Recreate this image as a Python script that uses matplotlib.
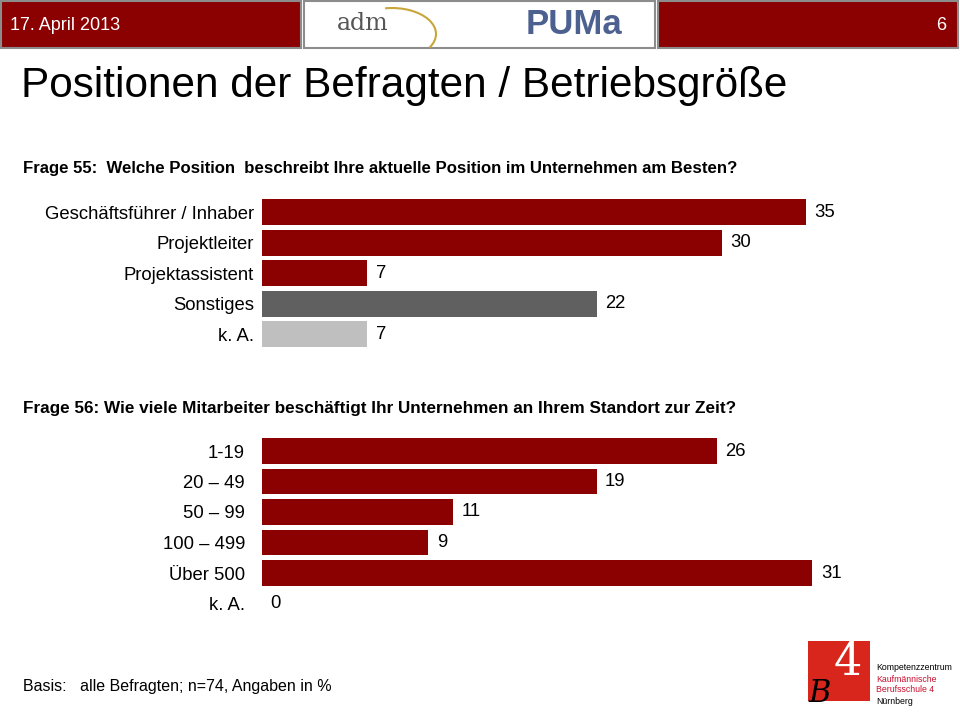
import numpy as np
import matplotlib.pyplot as plt
from matplotlib.patches import Rectangle, Arc

W, H = 960, 718
DARK_RED = '#8b0000'

# Frage 55 - bar lengths (percent), labels rounded
positions = ['Geschäftsführer / Inhaber', 'Projektleiter', 'Projektassistent', 'Sonstiges', 'k. A.']
position_values = [35.1, 29.7, 6.8, 21.6, 6.8]
position_colors = [DARK_RED, DARK_RED, DARK_RED, '#606060', '#bfbfbf']

# Frage 56
size_labels = ['1-19', '20 – 49', '50 – 99', '100 – 499', 'Über 500', 'k. A.']
size_values = [25.7, 18.9, 10.8, 9.4, 31.1, 0]
size_colors = [DARK_RED] * 6

plt.rcParams['font.family'] = ['Liberation Sans', 'DejaVu Sans']


def fig_rect(x0, y0, x1, y1):
    # pixel box (top-left origin) -> figure fraction
    return [x0 / W, 1 - y1 / H, (x1 - x0) / W, (y1 - y0) / H]


def bar_block(fig, rect, labels, values, colors, xmax, label_pad):
    ax = fig.add_axes(rect)
    y = np.arange(len(labels))
    bars = ax.barh(y, values, height=0.84, color=colors)
    ax.bar_label(bars, labels=['%.0f' % v for v in values], padding=6, fontsize=13.3)
    ax.set_xlim(0, xmax)
    ax.set_ylim(len(labels) - 0.5, -0.5)
    ax.set_yticks(y, labels, fontsize=13.3)
    ax.tick_params(axis='y', length=0, pad=label_pad)
    ax.set_xticks([])
    for s in ax.spines.values():
        s.set_visible(False)
    ax.patch.set_alpha(0)
    return ax


fig = plt.figure(figsize=(W / 100, H / 100), dpi=100)

deco = fig.add_axes([0, 0, 1, 1])
deco.set_xlim(0, W)
deco.set_ylim(H, 0)
deco.axis('off')

# header
deco.add_patch(Rectangle((1, 1), 300, 47, facecolor=DARK_RED, edgecolor='#8c8c8c', lw=1.5))
deco.add_patch(Rectangle((304, 1), 351, 47, facecolor='white', edgecolor='#8c8c8c', lw=1.5))
deco.add_patch(Rectangle((658, 1), 300, 47, facecolor=DARK_RED, edgecolor='#8c8c8c', lw=1.5))
deco.text(10, 25, '17. April 2013', color='white', fontsize=13, va='center')
deco.text(946, 25, '6', color='white', fontsize=13, va='center', ha='right')
deco.text(337, 23, 'adm', family='DejaVu Serif', color='#555555', fontsize=17, va='center')
deco.add_patch(Arc((392, 34), 88, 52, theta1=-105, theta2=20, color='#c8a63a', lw=1.5))
deco.text(526, 25, 'PUMa', color='#4d6190', fontsize=25, fontweight='bold', va='center')

# title and questions
deco.text(21, 86, 'Positionen der Befragten / Betriebsgröße', fontsize=30.4, va='center')
deco.text(23, 169, 'Frage 55:  Welche Position  beschreibt Ihre aktuelle Position im Unternehmen am Besten?',
          fontsize=12.1, fontweight='bold', va='center')
deco.text(23, 408, 'Frage 56: Wie viele Mitarbeiter beschäftigt Ihr Unternehmen an Ihrem Standort zur Zeit?',
          fontsize=12.3, fontweight='bold', va='center')

# footer
deco.text(23, 686, 'Basis:   alle Befragten; n=74, Angaben in %', fontsize=11.5, va='center')

# school logo
deco.add_patch(Rectangle((808, 641), 62, 60, facecolor='#d9261c', edgecolor='none'))
deco.text(848, 662, '4', color='white', fontsize=32, family='DejaVu Serif', ha='center', va='center')
deco.text(820, 693, 'B', color='black', fontsize=22, family='DejaVu Serif', style='italic',
          ha='center', va='center')
logo_lines = [('Kompetenzzentrum', 'black'), ('Kaufmännische', '#c8102e'),
              ('Berufsschule 4', '#c8102e'), ('Nürnberg', 'black')]
for i, (txt, col) in enumerate(logo_lines):
    deco.text(876, 668 + i * 11, txt, color=col, fontsize=6.3, va='center')

# charts
bar_block(fig, fig_rect(262, 197, 262 + 15.5 * 45, 349.5), positions, position_values,
          position_colors, 45, 5.8)
bar_block(fig, fig_rect(262, 435.75, 262 + 17.7 * 39, 618.75), size_labels, size_values,
          size_colors, 39, 12.2)

fig.savefig('out.png', dpi=100)
